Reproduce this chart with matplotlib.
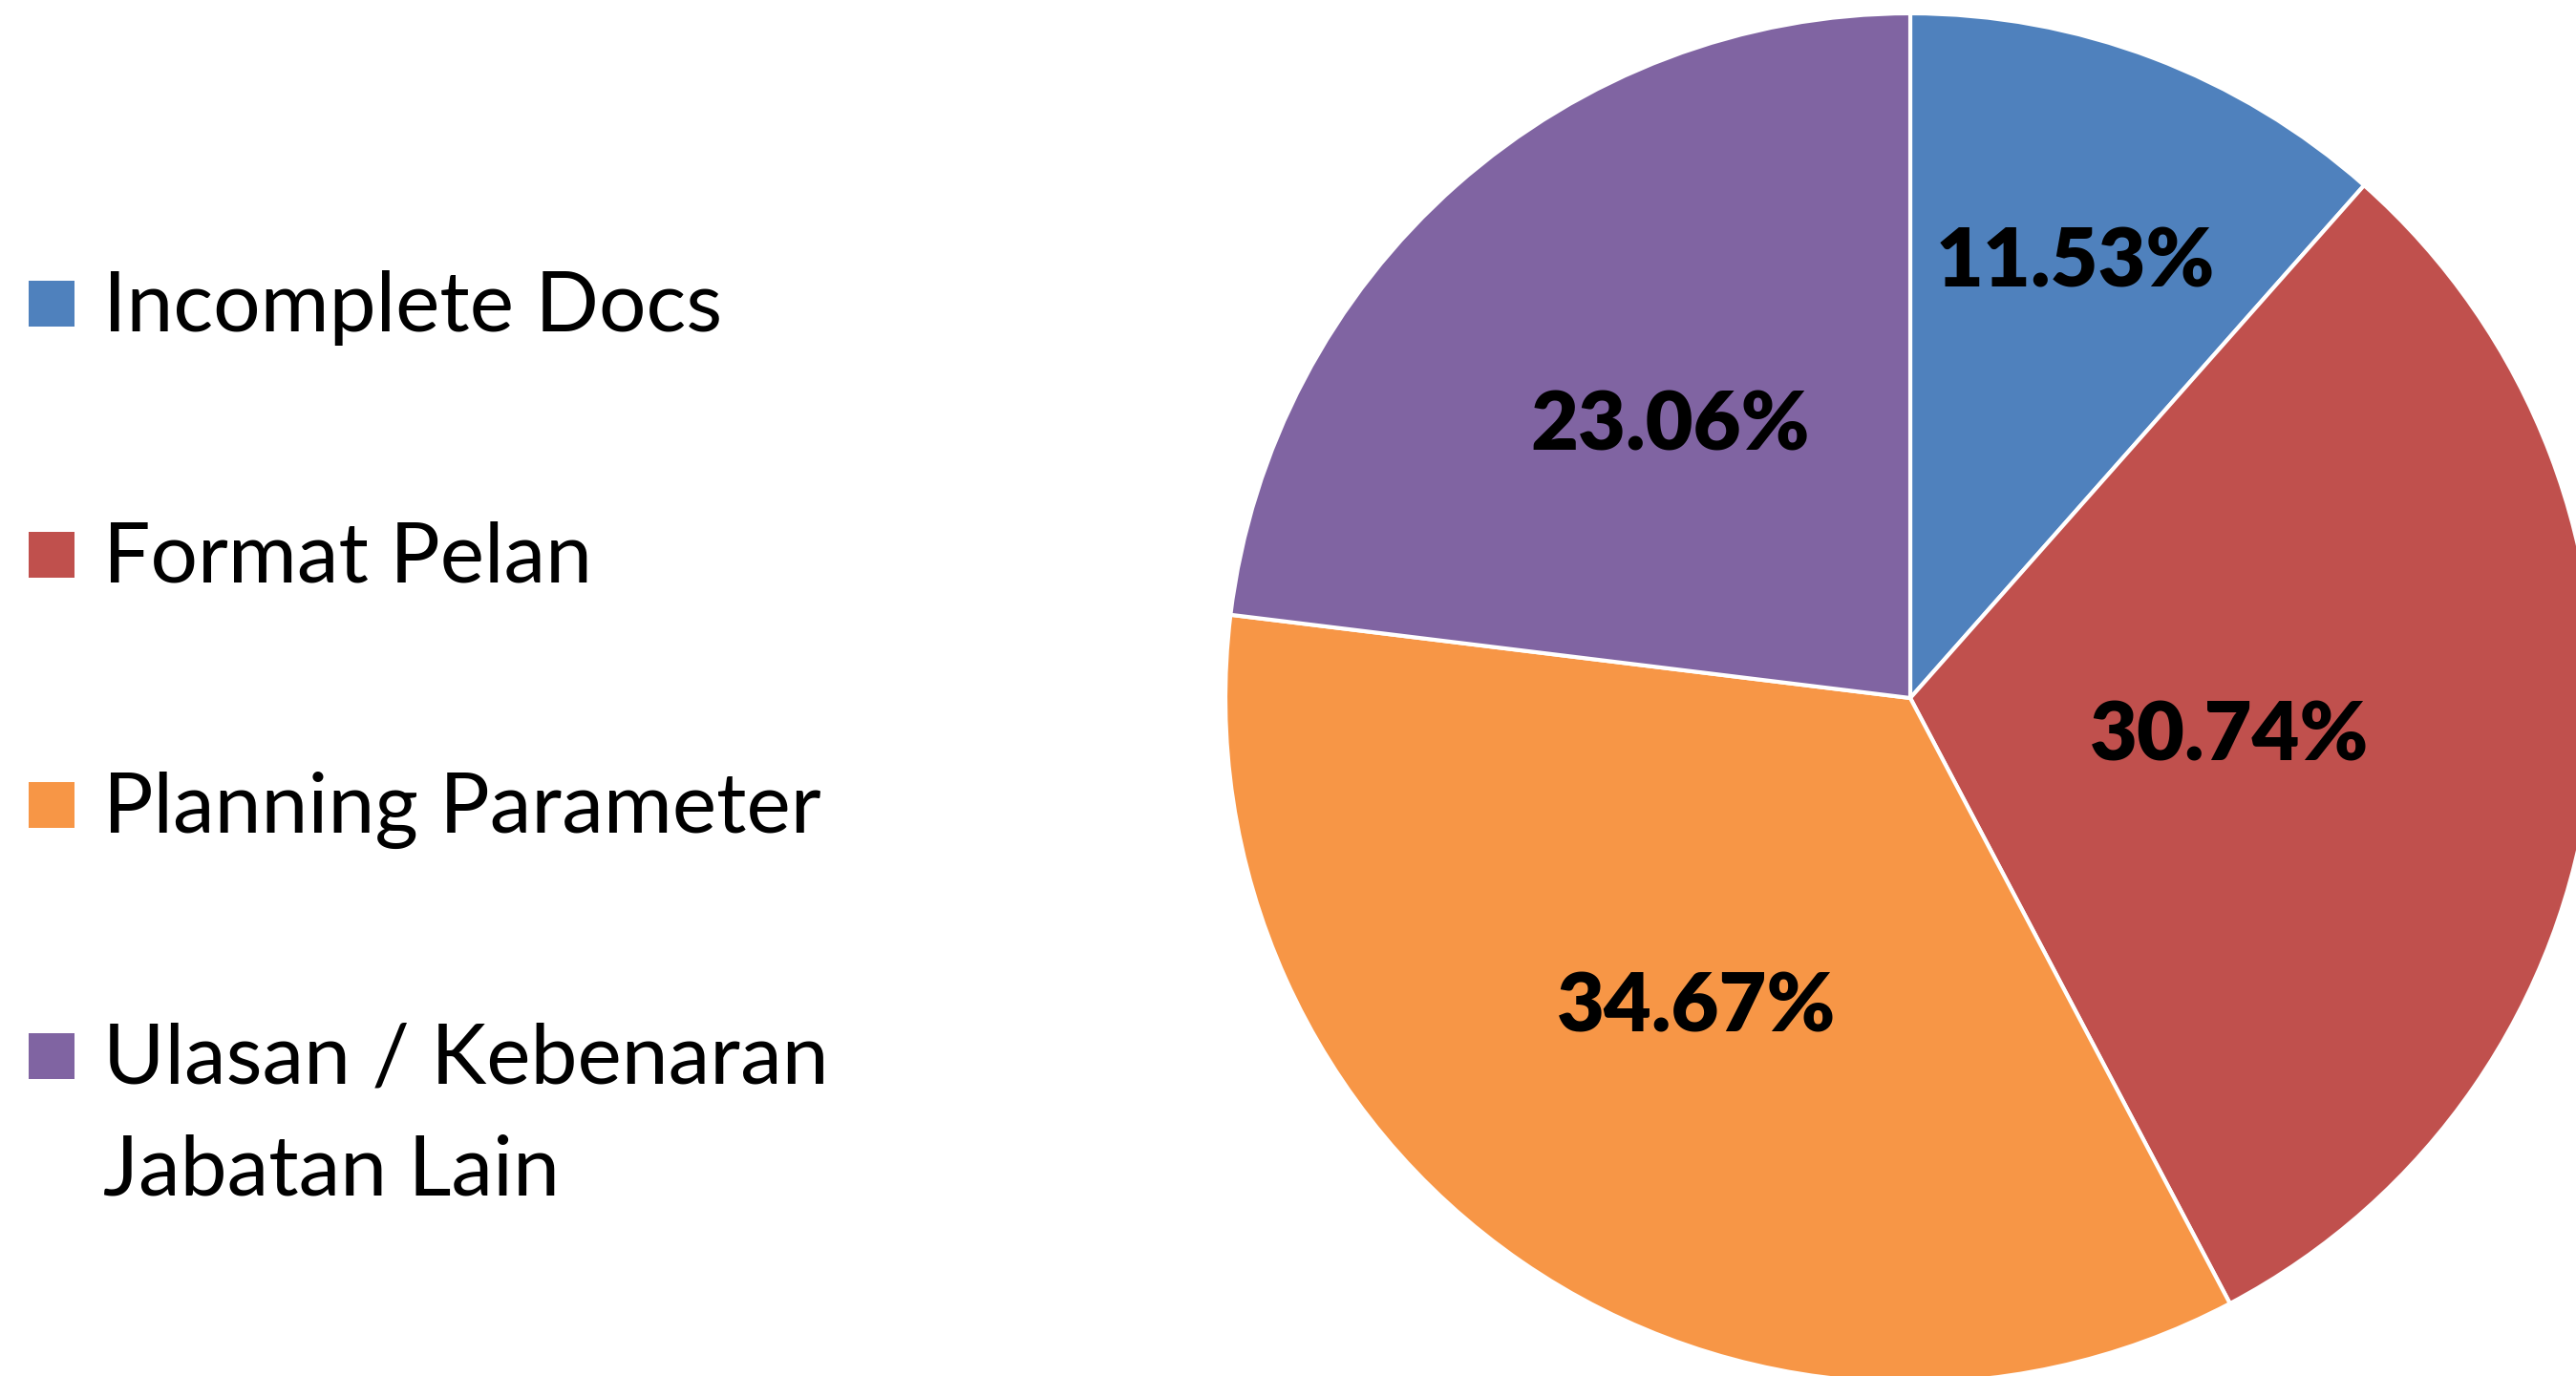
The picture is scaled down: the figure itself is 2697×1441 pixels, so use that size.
import numpy as np
import matplotlib
matplotlib.use("Agg")
import matplotlib.pyplot as plt
from matplotlib.patches import Rectangle

plt.rcParams['font.family'] = ['Lato', 'DejaVu Sans']

# data
labels = ['Incomplete Docs', 'Format Pelan', 'Planning Parameter',
          'Ulasan / Kebenaran\nJabatan Lain']
values = [11.53, 30.74, 34.67, 23.06]
colors = ['#4F81BD', '#C0504D', '#F79646', '#8064A2']

# label distance from centre (fraction of radius), Excel "best fit" look
label_dist = [0.68, 0.47, 0.55, 0.53]

W, H = 2697, 1441
fig = plt.figure(figsize=(W / 100, H / 100), dpi=100)

# pie: centre (2000, 731) px, radius 717 px
cx, cy, r = 2000, 731, 717
ax = fig.add_axes([(cx - r) / W, (H - cy - r) / H, 2 * r / W, 2 * r / H])
wedges, _ = ax.pie(values, colors=colors, startangle=90, counterclock=False,
                   wedgeprops=dict(edgecolor='white', linewidth=3))
ax.set_xlim(-1, 1)
ax.set_ylim(-1, 1)
ax.set_aspect('auto')
ax.axis('off')

for w, v, d in zip(wedges, values, label_dist):
    ang = np.deg2rad((w.theta1 + w.theta2) / 2)
    ax.text(d * np.cos(ang), d * np.sin(ang), '%.2f%%' % v,
            ha='center', va='center', fontsize=62, fontweight='heavy',
            color='black')

# legend drawn by hand (Excel style: marker aligned with first line)
box = 48
x_box = 30
x_text = 108
first_center = 318
step = 262.5
line_h = 117
for i, (lab, col) in enumerate(zip(labels, colors)):
    yc = first_center + i * step
    fig.patches.append(Rectangle((x_box / W, 1 - (yc + box / 2) / H),
                                 box / W, box / H, transform=fig.transFigure,
                                 facecolor=col, edgecolor='none'))
    for j, line in enumerate(lab.split('\n')):
        yb = yc + 29 + j * line_h
        fig.text(x_text / W, 1 - yb / H, line, ha='left', va='baseline',
                 fontsize=63, color='black')

fig.savefig('out.png', dpi=100)
